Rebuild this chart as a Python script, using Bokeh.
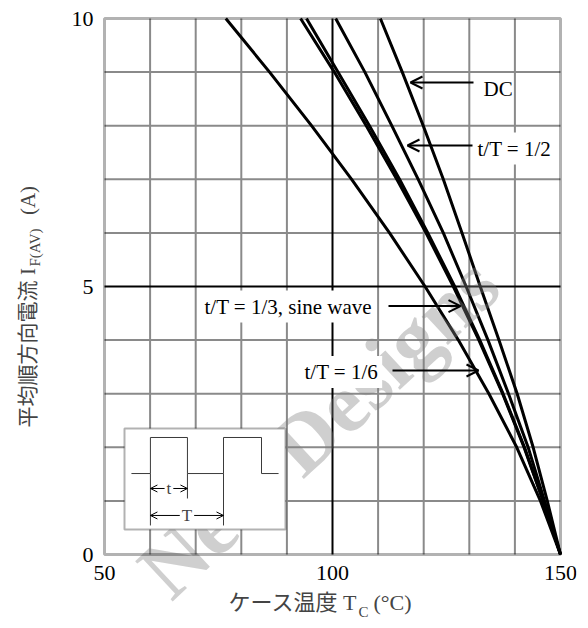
import math
from bokeh.plotting import figure
from bokeh.models import (Label, Arrow, OpenHead, FixedTicker, BoxAnnotation,
                          LinearAxis, Range1d)
from bokeh.embed import file_html
from bokeh.resources import INLINE

# ---------------- data ----------------
current_A = [0, 1, 2, 3, 4, 5, 6, 7, 8, 9, 10]
tc_dc     = [150, 147.1, 144.0, 140.5, 136.5, 132.4, 128.4, 124.3, 119.9, 115.3, 110.5]
tc_half   = [150, 146.5, 142.9, 138.6, 134.1, 129.3, 124.3, 118.8, 113.0, 107.1, 100.7]
tc_third  = [150, 146.2, 142.1, 137.4, 132.3, 126.8, 120.9, 114.7, 108.1, 101.2, 94.3]
tc_sine   = [150, 146.2, 142.0, 137.3, 132.1, 126.5, 120.5, 114.1, 107.4, 100.4, 93.0]
tc_sixth  = [150, 145.6, 140.4, 134.3, 127.6, 120.3, 112.5, 104.2, 95.4, 86.2, 76.6]

x_ticks = [50, 100, 150]
y_ticks = [0, 5, 10]
x_grid = [60, 70, 80, 90, 110, 120, 130, 140]
y_grid = [1, 2, 3, 4, 6, 7, 8, 9]
x_major = [100]
y_major = [5]

# inset waveform in normalised inset coordinates (0..1)
wave_u = [0.043, 0.161, 0.161, 0.391, 0.391, 0.615, 0.615, 0.851, 0.851, 0.957]
wave_v = [0.554, 0.554, 0.911, 0.911, 0.554, 0.554, 0.911, 0.911, 0.554, 0.554]

SERIF = "Liberation Serif"
MIXED = "Liberation Serif, Noto Sans CJK JP"

# ---------------- geometry (page pixels) ----------------
CW, CH = 586, 626
FR_L, FR_T, FR_R, FR_B = 0, 10, 576, 626
PL, PT, PR, PB = 104, 18, 560, 554
SX = (PR - PL) / (x_ticks[-1] - x_ticks[0])
SY = (PB - PT) / (y_ticks[-1] - y_ticks[0])

def dx(px):
    return x_ticks[0] + (px - PL) / SX

def dy(py):
    return y_ticks[0] + (PB - py) / SY

p = figure(width=CW, height=CH, title=None,
           x_range=Range1d(dx(FR_L), dx(FR_R)), y_range=Range1d(dy(FR_B), dy(FR_T)),
           x_axis_location="above", y_axis_location="right",
           min_border_left=0, min_border_bottom=0, min_border_top=FR_T,
           min_border_right=CW - FR_R,
           toolbar_location=None, output_backend="svg",
           background_fill_color="white", border_fill_color="white")
p.outline_line_color = None
p.grid.visible = False

def style_axis(ax):
    ax.major_tick_line_color = None
    ax.major_tick_out = 0
    ax.major_tick_in = 0
    ax.minor_tick_line_color = None
    ax.axis_line_color = None
    ax.major_label_text_font = SERIF
    ax.major_label_text_font_size = "22px"
    ax.major_label_text_color = "black"

xa = p.xaxis[0]
style_axis(xa)
xa.ticker = FixedTicker(ticks=x_ticks)
xa.fixed_location = y_ticks[0]
xa.major_label_standoff = -25

ya = p.yaxis[0]
style_axis(ya)
ya.ticker = FixedTicker(ticks=[t for t in y_ticks if t >= 10])
ya.fixed_location = x_ticks[0]
ya.major_label_standoff = -33
ya2 = LinearAxis(ticker=FixedTicker(ticks=[t for t in y_ticks if t < 10]))
style_axis(ya2)
ya2.fixed_location = x_ticks[0]
ya2.major_label_standoff = -22
p.add_layout(ya2, "right")

# ---------------- grid ----------------
n, m = len(x_grid), len(y_grid)
p.segment(x0=x_grid, y0=[y_ticks[0]] * n, x1=x_grid, y1=[y_ticks[-1]] * n,
          line_color="#8a8a8a", line_width=2)
p.segment(x0=[x_ticks[0]] * m, y0=y_grid, x1=[x_ticks[-1]] * m, y1=y_grid,
          line_color="#8a8a8a", line_width=2)
p.segment(x0=x_major, y0=[y_ticks[0]], x1=x_major, y1=[y_ticks[-1]], line_color="black", line_width=2)
p.segment(x0=[x_ticks[0]], y0=y_major, x1=[x_ticks[-1]], y1=y_major, line_color="black", line_width=2)

# ---------------- curves ----------------
for tc in (tc_sixth, tc_sine, tc_third, tc_half, tc_dc):
    p.line(x=tc, y=current_A, line_color="black", line_width=3, line_join="round")

# ---------------- watermark ----------------
p.add_layout(Label(x=dx(318), y=dy(426), text="New Designs", angle=0.75, text_align="center",
                   text_baseline="middle", text_font=SERIF, text_font_style="bold",
                   text_font_size="84px", text_color="#808080", text_alpha=0.38))

# chart border
p.add_layout(BoxAnnotation(left=x_ticks[0], right=x_ticks[-1], bottom=y_ticks[0], top=y_ticks[-1],
                           fill_alpha=0.0, line_color="black", line_width=3))

# ---------------- curve labels ----------------
def arrow(x0, x1, y):
    p.add_layout(Arrow(end=OpenHead(size=12, line_width=2, line_color="black"),
                       x_start=dx(x0), y_start=dy(y), x_end=dx(x1), y_end=dy(y),
                       line_width=2, line_color="black"))

def label(x, y, text, bg=True, size="21px"):
    kw = dict(background_fill_color="white", padding=4) if bg else {}
    p.add_layout(Label(x=dx(x), y=dy(y), text=text, text_font=SERIF, text_font_size=size,
                       text_align="left", text_baseline="middle", text_color="black", **kw))

arrow(473, 410, 82)
label(483, 88, "DC", bg=False)
arrow(472, 407, 145)
label(473, 148, "t/T = 1/2")
arrow(388, 460, 305.6)
label(200, 306, "t/T = 1/3, sine wave")
arrow(392, 478, 370)
label(300, 371.5, "t/T = 1/6")

# ---------------- inset (duty-cycle sketch) ----------------
IL, IR, IT, IB = 124, 285, 428, 529
p.add_layout(BoxAnnotation(left=dx(IL), right=dx(IR), top=dy(IT), bottom=dy(IB),
                           fill_color="white", fill_alpha=1.0, line_color="black",
                           line_width=2))

def iu(u):
    return dx(IL + u * (IR - IL))

def iv(v):
    return dy(IB - v * (IB - IT))

p.line(x=[iu(u) for u in wave_u], y=[iv(v) for v in wave_v],
       line_color="#3a3a3a", line_width=1, level="overlay")
for (u, v0, v1) in [(0.161, 0.554, 0.04), (0.391, 0.554, 0.307), (0.615, 0.554, 0.04)]:
    p.line(x=[iu(u), iu(u)], y=[iv(v0), iv(v1)], line_color="#3a3a3a", line_width=1, level="overlay")

def dim_arrow(u0, u1, v, txt):
    p.add_layout(Arrow(start=OpenHead(size=7, line_width=1, line_color="black"),
                       end=OpenHead(size=7, line_width=1, line_color="black"),
                       x_start=iu(u0), y_start=iv(v), x_end=iu(u1), y_end=iv(v),
                       line_width=1, line_color="black", level="overlay"))
    p.add_layout(Label(x=iu((u0 + u1) / 2), y=iv(v), text=txt, text_font=SERIF,
                       text_font_size="17px", text_align="center", text_baseline="middle",
                       background_fill_color="white", padding=2, level="overlay"))

dim_arrow(0.161, 0.391, 0.406, "t")
dim_arrow(0.161, 0.615, 0.139, "T")

# ---------------- axis titles ----------------
XB = 602
p.add_layout(Label(x=dx(228), y=dy(XB), text="ケース温度 T", text_font=MIXED, text_font_size="22px",
                   text_align="left", text_baseline="alphabetic"))
p.add_layout(Label(x=dx(358), y=dy(XB + 9), text="C", text_font=SERIF, text_font_size="15px",
                   text_align="left", text_baseline="alphabetic"))
p.add_layout(Label(x=dx(373), y=dy(XB), text="(°C)", text_font=SERIF, text_font_size="22px",
                   text_align="left", text_baseline="alphabetic"))

rot = math.pi / 2
def ylab(yc, xc, text, size, font=SERIF):
    p.add_layout(Label(x=dx(xc), y=dy(yc), text=text, angle=rot, text_font=font,
                       text_font_size=size, text_align="center", text_baseline="middle"))

ylab(353.5, 27, "平均順方向電流", "21px", MIXED)
ylab(271, 27, "I", "21px")
ylab(247, 34, "F(AV)", "15px")
ylab(200, 27, "(A)", "21px")

open("out.html", "w").write(file_html(p, INLINE))
